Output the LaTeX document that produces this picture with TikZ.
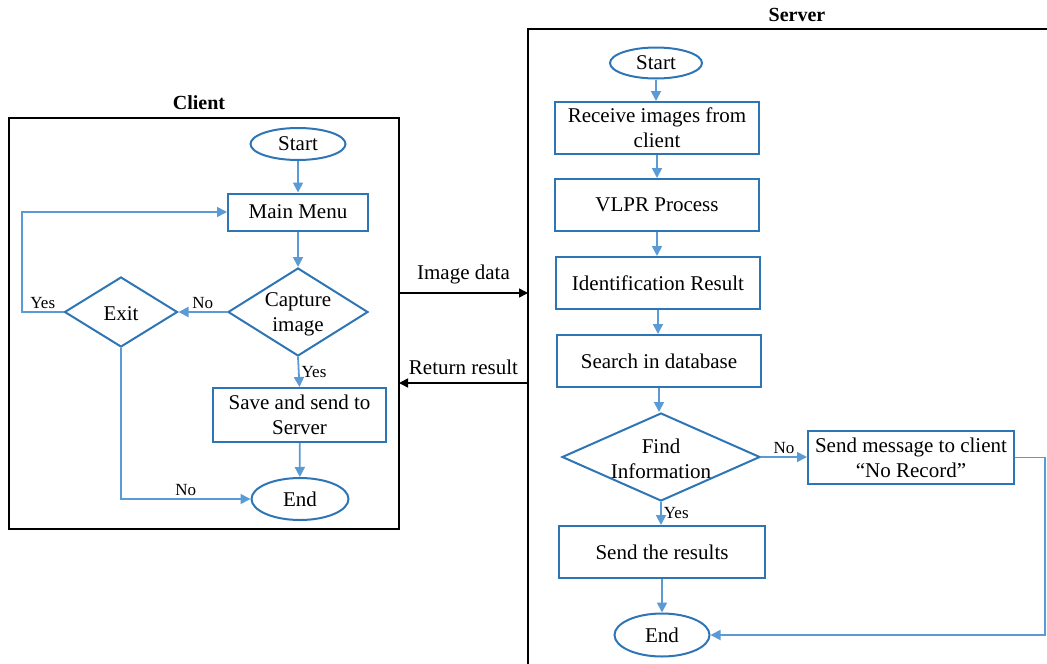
\documentclass[tikz,border=0pt]{standalone}
\usepackage{fontspec}
\setmainfont{Liberation Serif}
\usetikzlibrary{shapes.geometric,arrows.meta}
\definecolor{nodeblue}{HTML}{2E75B6}
\definecolor{lineblue}{HTML}{5B9BD5}
\begin{document}
\begin{tikzpicture}[x=1pt,y=-1pt,
  font=\fontsize{21}{25}\selectfont,
  box/.style={draw=nodeblue, line width=2pt, align=center, inner sep=0pt},
  term/.style={ellipse, draw=nodeblue, line width=2pt, inner sep=0pt},
  dec/.style={diamond, draw=nodeblue, line width=2pt, inner sep=0pt},
  dectext/.style={align=center, inner sep=0pt},
  flow/.style={draw=lineblue, line width=1.8pt, -{Triangle[length=10pt,width=10pt]}},
  msg/.style={draw=black, line width=1.5pt, -{Triangle[length=9pt,width=9pt]}},
  lab/.style={font=\fontsize{17}{20}\selectfont, inner sep=2pt},
  frame/.style={draw=black, line width=2pt},
  title/.style={font=\fontsize{20}{24}\selectfont\bfseries, inner sep=0pt}
]
\useasboundingbox (0,0) rectangle (1047,664);

% ---------- Client ----------
\node[frame, minimum width=390pt, minimum height=411pt, inner sep=0pt] (client) at (204,323.5) {};
\node[title] (clienttitle) at (199,103) {Client};

\node[term, minimum width=95pt, minimum height=32pt] (cs) at (298,144) {Start};
\node[box, minimum width=140pt, minimum height=37pt] (cm) at (298,212) {Main Menu};
\node[dec, minimum width=140pt, minimum height=88pt] (cc) at (298,312) {};
\node[dectext] (cct) at (298,314) {Capture\\image};
\node[dec, minimum width=113pt, minimum height=70pt] (ce) at (121,312) {};
\node[dectext] (cet) at (121,314) {Exit};
\node[box, minimum width=173pt, minimum height=54pt] (csv) at (299.5,415) {Save and send to\\Server};
\node[term, minimum width=97pt, minimum height=42pt] (cend) at (300,499) {End};

\draw[flow] (cs) -- (cm);
\draw[flow] (cm) -- (cc);
\draw[flow] (cc.west) -- node[lab, above]{No} (ce.east);
\draw[flow] (cc.south) -- node[lab, right]{Yes} (csv.north);
\draw[flow] (csv) -- (cend);
\draw[flow] (ce.west) -- node[lab, above]{Yes} (22,312) |- (cm.west);
\draw[flow] (ce.south) |- node[lab, above, pos=0.75]{No} (cend.west);

% ---------- Messages ----------
\coordinate (c1) at (399,293);
\coordinate (s1) at (528,293);
\coordinate (c2) at (399,383);
\coordinate (s2) at (528,383);
\draw[msg] (c1) -- node[above=8pt, inner sep=0pt]{Image data} (s1);
\draw[msg] (s2) -- node[above=8pt, inner sep=0pt]{Return result} (c2);

% ---------- Server ----------
\draw[frame] (1047,29) -- (528,29) -- (528,664);
\node[title] (servertitle) at (797,15) {Server};

\node[term, minimum width=92pt, minimum height=31pt] (ss) at (656,63) {Start};
\node[box, minimum width=204pt, minimum height=52pt] (sr) at (657,128) {Receive images from\\client};
\node[box, minimum width=204pt, minimum height=52pt] (sv) at (657,205) {VLPR Process};
\node[box, minimum width=204pt, minimum height=52pt] (si) at (658,283) {Identification Result};
\node[box, minimum width=204pt, minimum height=52pt] (sd) at (659,361) {Search in database};
\node[dec, minimum width=198pt, minimum height=88pt] (sf) at (661,457) {};
\node[dectext] (sft) at (661,459) {Find\\Information};
\node[box, minimum width=206pt, minimum height=53pt] (sm) at (911,457.5) {Send message to client\\“No Record”};
\node[box, minimum width=206pt, minimum height=52pt] (sres) at (662,552) {Send the results};
\node[term, minimum width=95pt, minimum height=43pt] (send) at (662,635) {End};

\draw[flow] (ss.south) -- (ss.south |- sr.north);
\draw[flow] (sr.south) -- (sr.south |- sv.north);
\draw[flow] (sv.south) -- (sv.south |- si.north);
\draw[flow] (si.south) -- (si.south |- sd.north);
\draw[flow] (sd.south) -- (sd.south |- sf.north);
\draw[flow] (sf.east) -- node[lab, above]{No} (sf.east -| sm.west);
\draw[flow] (sf.south) -- node[lab, right]{Yes} (sf.south |- sres.north);
\draw[flow] (sres.south) -- (sres.south |- send.north);
\draw[flow] (sm.east) -- ++(30,0) |- (send.east);
\end{tikzpicture}
\end{document}
